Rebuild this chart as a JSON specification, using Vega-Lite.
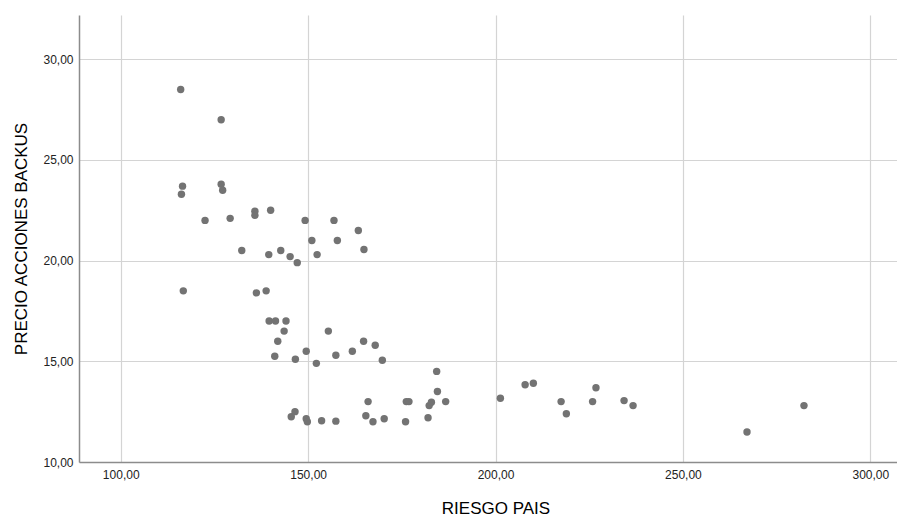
{
  "$schema": "https://vega.github.io/schema/vega-lite/v6.json",
  "autosize": {"type": "none"},
  "padding": {"left": 79, "top": 15, "right": 0, "bottom": 53},
  "width": 818,
  "height": 447,
  "background": "white",
  "config": {
    "view": {"stroke": null},
    "font": "Liberation Sans"
  },
  "data": {
    "values": [
      {"riesgo": 116.0, "precio": 28.5},
      {"riesgo": 126.8, "precio": 27.0},
      {"riesgo": 116.5, "precio": 23.7},
      {"riesgo": 116.2, "precio": 23.3},
      {"riesgo": 126.8, "precio": 23.8},
      {"riesgo": 127.2, "precio": 23.5},
      {"riesgo": 122.5, "precio": 22.0},
      {"riesgo": 129.2, "precio": 22.1},
      {"riesgo": 135.8, "precio": 22.45},
      {"riesgo": 135.8, "precio": 22.25},
      {"riesgo": 140.0, "precio": 22.5},
      {"riesgo": 149.2, "precio": 22.0},
      {"riesgo": 156.9, "precio": 22.0},
      {"riesgo": 151.0, "precio": 21.0},
      {"riesgo": 157.8, "precio": 21.0},
      {"riesgo": 163.4, "precio": 21.5},
      {"riesgo": 164.9, "precio": 20.55},
      {"riesgo": 132.3, "precio": 20.5},
      {"riesgo": 139.5, "precio": 20.3},
      {"riesgo": 142.7, "precio": 20.5},
      {"riesgo": 145.2, "precio": 20.2},
      {"riesgo": 152.4, "precio": 20.3},
      {"riesgo": 147.1, "precio": 19.9},
      {"riesgo": 116.7, "precio": 18.5},
      {"riesgo": 136.2, "precio": 18.4},
      {"riesgo": 138.8, "precio": 18.5},
      {"riesgo": 139.6, "precio": 17.0},
      {"riesgo": 141.3, "precio": 17.0},
      {"riesgo": 144.1, "precio": 17.0},
      {"riesgo": 143.6, "precio": 16.5},
      {"riesgo": 141.9, "precio": 16.0},
      {"riesgo": 155.4, "precio": 16.5},
      {"riesgo": 149.5, "precio": 15.5},
      {"riesgo": 161.8, "precio": 15.5},
      {"riesgo": 164.8, "precio": 16.0},
      {"riesgo": 167.9, "precio": 15.8},
      {"riesgo": 169.8, "precio": 15.05},
      {"riesgo": 141.1, "precio": 15.25},
      {"riesgo": 146.6, "precio": 15.1},
      {"riesgo": 152.2, "precio": 14.9},
      {"riesgo": 157.4, "precio": 15.3},
      {"riesgo": 184.3, "precio": 14.5},
      {"riesgo": 184.5, "precio": 13.5},
      {"riesgo": 186.7, "precio": 13.0},
      {"riesgo": 166.0, "precio": 13.0},
      {"riesgo": 176.2, "precio": 13.0},
      {"riesgo": 176.9, "precio": 13.0},
      {"riesgo": 182.3, "precio": 12.8},
      {"riesgo": 182.9, "precio": 12.97},
      {"riesgo": 182.0, "precio": 12.2},
      {"riesgo": 165.4, "precio": 12.3},
      {"riesgo": 167.3, "precio": 12.0},
      {"riesgo": 170.3, "precio": 12.15},
      {"riesgo": 176.0, "precio": 12.0},
      {"riesgo": 145.5, "precio": 12.25},
      {"riesgo": 146.5, "precio": 12.5},
      {"riesgo": 149.5, "precio": 12.15},
      {"riesgo": 149.8, "precio": 12.0},
      {"riesgo": 153.6, "precio": 12.05},
      {"riesgo": 157.4, "precio": 12.03},
      {"riesgo": 201.3, "precio": 13.17},
      {"riesgo": 207.9, "precio": 13.84},
      {"riesgo": 210.1, "precio": 13.91},
      {"riesgo": 217.5, "precio": 13.0},
      {"riesgo": 218.9, "precio": 12.4},
      {"riesgo": 225.9, "precio": 13.0},
      {"riesgo": 226.8, "precio": 13.69},
      {"riesgo": 234.3, "precio": 13.05},
      {"riesgo": 236.7, "precio": 12.8},
      {"riesgo": 267.1, "precio": 11.49},
      {"riesgo": 282.3, "precio": 12.8}
    ]
  },
  "mark": {"type": "point", "filled": true, "opacity": 1, "color": "#737373", "size": 55, "clip": true},
  "encoding": {
    "x": {
      "field": "riesgo",
      "type": "quantitative",
      "scale": {"domain": [88.87, 307.12], "nice": false, "zero": false},
      "axis": {
        "title": "RIESGO PAIS",
        "values": [100, 150, 200, 250, 300],
        "labelExpr": "replace(format(datum.value, '.2f'), '.', ',')",
        "ticks": false,
        "labelPadding": 7,
        "labelFontSize": 12,
        "labelColor": "#222222",
        "labelFont": "Liberation Sans",
        "domainColor": "#8c8c8c",
        "domainWidth": 1.5,
        "gridColor": "#d4d4d4",
        "gridWidth": 1.2,
        "titleFontSize": 17,
        "titleFontWeight": "normal",
        "titleColor": "#000000",
        "titleFont": "Liberation Sans",
        "titleX": 416.5,
        "titleY": 51,
        "titleBaseline": "alphabetic"
      }
    },
    "y": {
      "field": "precio",
      "type": "quantitative",
      "scale": {"domain": [10, 32.2], "nice": false, "zero": false},
      "axis": {
        "title": "PRECIO ACCIONES BACKUS",
        "values": [10, 15, 20, 25, 30],
        "labelExpr": "replace(format(datum.value, '.2f'), '.', ',')",
        "ticks": false,
        "labelPadding": 6,
        "labelFontSize": 12,
        "labelColor": "#222222",
        "labelFont": "Liberation Sans",
        "domainColor": "#8c8c8c",
        "domainWidth": 1.5,
        "gridColor": "#d4d4d4",
        "gridWidth": 1.2,
        "titleFontSize": 17,
        "titleFontWeight": "normal",
        "titleColor": "#000000",
        "titleFont": "Liberation Sans",
        "titleX": -53,
        "titleY": 223.5,
        "titleBaseline": "alphabetic",
        "titleAngle": -90,
        "titleAlign": "center"
      }
    }
  }
}
